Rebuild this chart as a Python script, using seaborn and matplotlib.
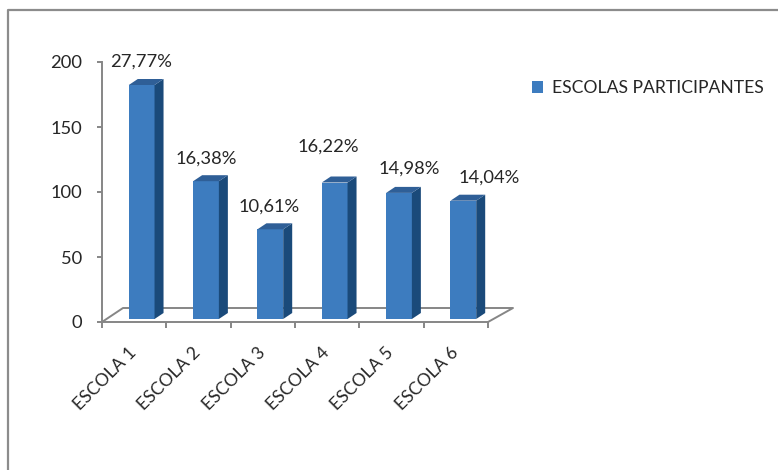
import numpy as np
import pandas as pd
import matplotlib
matplotlib.use("Agg")
import matplotlib.pyplot as plt
from matplotlib.patches import Polygon
from matplotlib.lines import Line2D
import seaborn as sns

# Participating schools: counts and their share of the total
escolas = ["ESCOLA 1", "ESCOLA 2", "ESCOLA 3", "ESCOLA 4", "ESCOLA 5", "ESCOLA 6"]
participantes = [180, 106, 69, 105, 97, 91]
percentuais = ["27,77%", "16,38%", "10,61%", "16,22%", "14,98%", "14,04%"]
serie = "ESCOLAS PARTICIPANTES"
y_ticks = [0, 50, 100, 150, 200]

# hand-placed label nudges (pixels right, pixels up) from each bar's top
label_nudge = [(-1, 23), (0, 23), (-1, 23), (-6, 36), (10, 24), (26, 23)]

FRONT = "#3D7CBF"
SIDE = "#1A4A7A"
TOP = "#2F5F97"
AXIS = "#868686"
TEXT = "#262626"
NUM_FS = 13.2
CAP_FS = 12.6

sns.set_theme(style="white")
plt.rcParams["font.family"] = ["Lato", "DejaVu Sans"]

W, H, DPI = 778, 470, 100
PT_PER_PX = 72 / DPI
fig = plt.figure(figsize=(W / DPI, H / DPI), dpi=DPI)
ax_l, ax_r, ax_t, ax_b = 102, 488, 62, 322
ax = fig.add_axes([ax_l / W, 1 - ax_b / H, (ax_r - ax_l) / W, (ax_b - ax_t) / H])

df = pd.DataFrame({"escola": escolas, "n": participantes, "serie": serie})
sns.barplot(data=df, x="escola", y="n", hue="serie", palette=[FRONT],
            width=0.4, dodge=False, saturation=1, ax=ax, edgecolor="none")

ax.set_xlim(-0.5, 5.5)
ax.set_ylim(0, 200)

# pixel -> data conversion factors for the pseudo-3D extrusion
px_x = 6 / (ax_r - ax_l)
px_y = 200 / (ax_b - ax_t)
shift_x, shift_y = 7.5 * px_x, 3 * px_y      # front face placement on the floor
depth_x, depth_y = 9 * px_x, 6 * px_y        # bar depth

bars = [p for p in ax.patches if p.get_height() > 0]
for p, lab, (nx, ny) in zip(bars, percentuais, label_nudge):
    p.set_x(p.get_x() + shift_x)
    p.set_y(shift_y)
    x0, w = p.get_x(), p.get_width()
    y0, h = p.get_y(), p.get_height()
    x1, y1 = x0 + w, y0 + h
    side = Polygon([(x1, y0), (x1 + depth_x, y0 + depth_y), (x1 + depth_x, y1 + depth_y), (x1, y1)],
                   closed=True, facecolor=SIDE, edgecolor="none", zorder=p.get_zorder())
    top = Polygon([(x0, y1), (x0 + depth_x, y1 + depth_y), (x1 + depth_x, y1 + depth_y), (x1, y1)],
                  closed=True, facecolor=TOP, edgecolor="none", zorder=p.get_zorder())
    ax.add_patch(side)
    ax.add_patch(top)
    ax.annotate(lab, (x0 + w / 2, y1), xytext=(nx * PT_PER_PX, ny * PT_PER_PX),
                textcoords="offset points", ha="center", va="center",
                fontsize=NUM_FS, color=TEXT, annotation_clip=False)

# floor outline
floor_back = 14 * px_y
floor = [(-0.5, 0), (-0.5 + 21 * px_x, floor_back), (5.5 + 25 * px_x, floor_back), (5.5, 0)]
ax.add_line(Line2D([q[0] for q in floor], [q[1] for q in floor], color=AXIS, lw=1.4,
                   clip_on=False, zorder=0.5))

for s in ["top", "right"]:
    ax.spines[s].set_visible(False)
for s in ["left", "bottom"]:
    ax.spines[s].set_color(AXIS)
    ax.spines[s].set_linewidth(1.4)

ax.set_yticks(y_ticks)
ax.set_yticklabels([str(v) for v in y_ticks])
# category labels sit a little right of each slot centre; slot borders get the tick marks
ax.set_xticks(np.arange(len(escolas)) + 0.05)
ax.set_xticklabels(escolas)
ax.set_xticks(np.arange(-0.5, len(escolas)), minor=True)
ax.tick_params(axis="y", which="major", direction="out", length=3.6, width=1.4,
               color=AXIS, pad=10.5, labelsize=NUM_FS, labelcolor=TEXT, left=True)
ax.tick_params(axis="x", which="major", length=0, pad=23, labelsize=CAP_FS, labelcolor=TEXT)
ax.tick_params(axis="x", which="minor", direction="out", length=4.3, width=1.4,
               color=AXIS, bottom=True)
for t in ax.get_xticklabels():
    t.set_rotation(45)
    t.set_rotation_mode("anchor")
    t.set_ha("right")
    t.set_va("baseline")
ax.set_xlabel("")
ax.set_ylabel("")

sns.move_legend(ax, loc="center left", bbox_to_anchor=(532 / W, 1 - 88 / H),
                bbox_transform=fig.transFigure, frameon=False, title=None,
                borderpad=0, borderaxespad=0, handlelength=0.62, handleheight=0.62,
                handletextpad=0.5, fontsize=CAP_FS)
for t in ax.get_legend().get_texts():
    t.set_color(TEXT)

# outer chart frame (left and top edges)
fig.add_artist(Line2D([8 / W, 8 / W, 1], [0, 1 - 10 / H, 1 - 10 / H],
                      transform=fig.transFigure, color="#8C8C8C", lw=1.6))

fig.savefig("out.png", dpi=DPI)
